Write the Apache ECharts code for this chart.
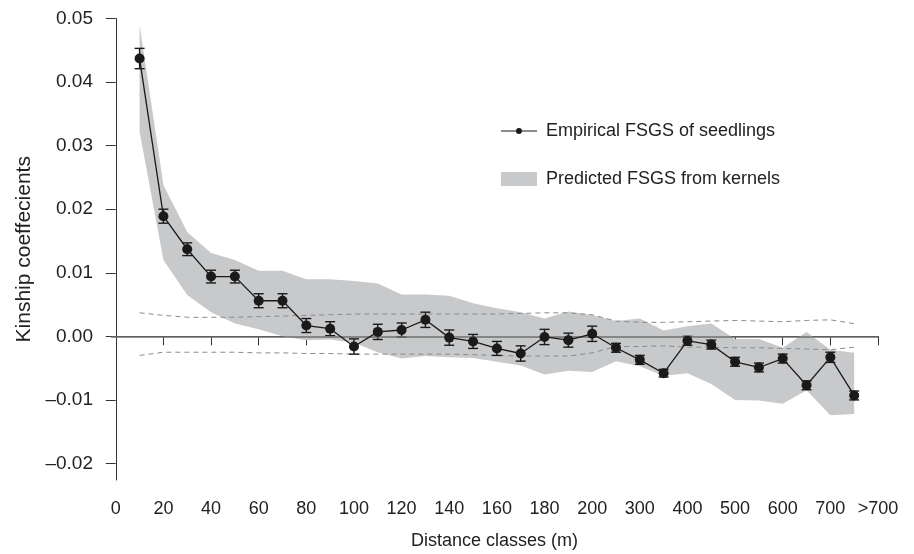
<!DOCTYPE html>
<html>
<head>
<meta charset="utf-8">
<script src="https://cdn.jsdelivr.net/npm/echarts@6/dist/echarts.min.js"></script>
<style>
  html, body { margin: 0; padding: 0; background: #fff; }
  #chart { width: 914px; height: 554px; }
</style>
</head>
<body>
<div id="chart"></div>
<script>
// tick labels along the distance axis (one per axis unit)
const tickLabels = ['0', '20', '40', '60', '80', '100', '120', '140', '160', '180', '200',
  '300', '400', '500', '600', '700', '>700'];

// distance classes and their place on the axis (axis units)
const classes = ['10', '20', '30', '40', '50', '60', '70', '80', '90', '100',
  '110', '120', '130', '140', '150', '160', '170', '180', '190', '200',
  '250', '300', '350', '400', '450', '500', '550', '600', '650', '700', '>700'];
const xPos = [0.5, 1, 1.5, 2, 2.5, 3, 3.5, 4, 4.5, 5,
  5.5, 6, 6.5, 7, 7.5, 8, 8.5, 9, 9.5, 10,
  10.5, 11, 11.5, 12, 12.5, 13, 13.5, 14, 14.5, 15, 15.5];

// empirical FSGS of seedlings, with standard errors
const kinship = [0.0437, 0.0189, 0.0137, 0.0094, 0.0094, 0.0056, 0.0056, 0.0017, 0.0012, -0.0016,
  0.0007, 0.0010, 0.0026, -0.0002, -0.0008, -0.0019, -0.0027, -0.0001, -0.0006, 0.0004,
  -0.0018, -0.0037, -0.0058, -0.0007, -0.0013, -0.0040, -0.0049, -0.0035, -0.0077, -0.0033, -0.0093];
const kinshipSE = [0.0016, 0.0011, 0.0010, 0.0010, 0.0010, 0.0011, 0.0011, 0.0011, 0.0011, 0.0012,
  0.0012, 0.0011, 0.0012, 0.0012, 0.0011, 0.0011, 0.0012, 0.0012, 0.0011, 0.0012,
  0.0007, 0.0007, 0.0006, 0.0007, 0.0007, 0.0007, 0.0007, 0.0007, 0.0007, 0.0008, 0.0007];

// predicted FSGS from kernels (envelope)
const predUpper = [0.0490, 0.0238, 0.0164, 0.0131, 0.0120, 0.0103, 0.0103, 0.0090, 0.0090, 0.0087,
  0.0083, 0.0066, 0.0066, 0.0064, 0.0052, 0.0044, 0.0038, 0.0028, 0.0039, 0.0033,
  0.0024, 0.0028, 0.0009, 0.0016, 0.0020, -0.0004, -0.0004, -0.0018, 0.0007, -0.0021, -0.0026];
const predLower = [0.0322, 0.0120, 0.0065, 0.0038, 0.0020, 0.0011, 0.0000, -0.0006, -0.0005, -0.0010,
  -0.0025, -0.0035, -0.0031, -0.0033, -0.0034, -0.0040, -0.0046, -0.0060, -0.0054, -0.0056,
  -0.0039, -0.0047, -0.0062, -0.0058, -0.0075, -0.0100, -0.0101, -0.0106, -0.0085, -0.0124, -0.0122];

// 95% confidence interval under random distribution (dashed)
const ciUpper = [0.0037, 0.0033, 0.0030, 0.0030, 0.0030, 0.0031, 0.0032, 0.0033, 0.0034, 0.0035,
  0.0035, 0.0035, 0.0035, 0.0035, 0.0035, 0.0035, 0.0036, 0.0037, 0.0037, 0.0034,
  0.0024, 0.0022, 0.0022, 0.0023, 0.0024, 0.0025, 0.0024, 0.0023, 0.0025, 0.0026, 0.0020];
const ciLower = [-0.0030, -0.0025, -0.0025, -0.0025, -0.0025, -0.0026, -0.0026, -0.0027, -0.0027, -0.0028,
  -0.0028, -0.0028, -0.0028, -0.0028, -0.0029, -0.0030, -0.0031, -0.0031, -0.0031, -0.0026,
  -0.0016, -0.0016, -0.0015, -0.0017, -0.0017, -0.0018, -0.0018, -0.0019, -0.0020, -0.0021, -0.0017];

const yTicks = [-0.02, -0.01, 0, 0.01, 0.02, 0.03, 0.04, 0.05];
const xTicks = tickLabels.map((t, i) => i);

const font = "'Liberation Sans', Arial, sans-serif";
const txt = '#222';
const pair = arr => arr.map((v, i) => [xPos[i], v]);

const chart = echarts.init(document.getElementById('chart'));
chart.setOption({
  animation: false,
  textStyle: { fontFamily: font },
  grid: { left: 111, right: 36, top: 18.5, bottom: 74, outerBoundsMode: 'none' },
  legend: {
    orient: 'vertical',
    left: 496,
    top: 117,
    itemGap: 30,
    itemWidth: 36,
    itemHeight: 14,
    textStyle: { fontSize: 18, color: txt, fontFamily: font, padding: [0, 0, 0, 4] },
    data: [
      { name: 'Empirical FSGS of seedlings', icon: 'path://M0,6.4L36,6.4L36,7.6L0,7.6Z M18,4A3,3,0,1,1,17.99,4Z' },
      { name: 'Predicted FSGS from kernels', icon: 'rect' }
    ]
  },
  xAxis: {
    type: 'value',
    min: -0.1,
    max: 16,
    name: 'Distance classes (m)',
    nameLocation: 'middle',
    nameGap: 52,
    nameTextStyle: { fontSize: 18, color: txt },
    axisLine: { lineStyle: { color: '#333', width: 1 } },
    axisTick: { customValues: xTicks, length: 9, lineStyle: { color: '#333' } },
    axisLabel: {
      customValues: xTicks,
      fontSize: 18, color: txt, margin: 20,
      formatter: v => tickLabels[Math.round(v)]
    },
    splitLine: { show: false }
  },
  yAxis: {
    type: 'value',
    min: -0.0226,
    max: 0.05,
    name: 'Kinship coeffecients',
    nameLocation: 'middle',
    nameGap: 76,
    nameTextStyle: { fontSize: 21, color: txt },
    axisLine: { show: true, lineStyle: { color: '#333', width: 1 } },
    axisTick: { show: true, customValues: yTicks, length: 10, lineStyle: { color: '#333' } },
    axisLabel: {
      customValues: yTicks,
      fontSize: 19, color: txt, margin: 18,
      formatter: v => (v < -1e-9 ? '\u2013' + (-v).toFixed(2) : Math.abs(v).toFixed(2))
    },
    splitLine: { show: false }
  },
  series: [
    {
      name: 'Predicted FSGS from kernels',
      type: 'custom',
      z: 1,
      silent: true,
      itemStyle: { color: '#c8c9cb' },
      data: [0],
      renderItem: (params, api) => {
        const pts = [];
        xPos.forEach((x, i) => pts.push(api.coord([x, predUpper[i]])));
        for (let i = xPos.length - 1; i >= 0; i--) pts.push(api.coord([xPos[i], predLower[i]]));
        return { type: 'polygon', shape: { points: pts }, style: { fill: '#c8c9cb' } };
      }
    },
    {
      name: 'ciUpper',
      type: 'line',
      z: 2,
      silent: true,
      symbol: 'none',
      data: pair(ciUpper),
      lineStyle: { color: '#8a8a8a', width: 1, type: [5, 4] }
    },
    {
      name: 'ciLower',
      type: 'line',
      z: 2,
      silent: true,
      symbol: 'none',
      data: pair(ciLower),
      lineStyle: { color: '#8a8a8a', width: 1, type: [5, 4] },
      markLine: {
        silent: true,
        symbol: 'none',
        label: { show: false },
        lineStyle: { color: '#6e6e6e', width: 1.6, type: 'solid' },
        data: [{ yAxis: 0 }]
      }
    },
    {
      name: 'errors',
      type: 'custom',
      z: 4,
      silent: true,
      data: kinship.map((v, i) => [xPos[i], v - kinshipSE[i], v + kinshipSE[i]]),
      renderItem: (params, api) => {
        const lo = api.coord([api.value(0), api.value(1)]);
        const hi = api.coord([api.value(0), api.value(2)]);
        const w = 5;
        const st = { stroke: '#1a1a1a', lineWidth: 1.4 };
        return {
          type: 'group',
          children: [
            { type: 'line', shape: { x1: lo[0], y1: lo[1], x2: hi[0], y2: hi[1] }, style: st },
            { type: 'line', shape: { x1: lo[0] - w, y1: lo[1], x2: lo[0] + w, y2: lo[1] }, style: st },
            { type: 'line', shape: { x1: hi[0] - w, y1: hi[1], x2: hi[0] + w, y2: hi[1] }, style: st }
          ]
        };
      }
    },
    {
      name: 'Empirical FSGS of seedlings',
      type: 'line',
      z: 5,
      data: pair(kinship),
      symbol: 'circle',
      symbolSize: 10,
      itemStyle: { color: '#1a1a1a' },
      lineStyle: { color: '#1a1a1a', width: 1.3 }
    }
  ]
});
</script>
</body>
</html>
